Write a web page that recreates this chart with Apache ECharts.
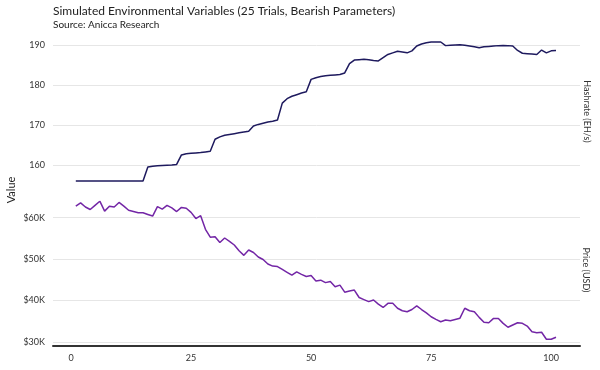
<!DOCTYPE html>
<html><head><meta charset="utf-8">
<script src="https://cdn.jsdelivr.net/npm/echarts@6/dist/echarts.min.js"></script>
<style>html,body{margin:0;padding:0;background:#fff}#c{width:600px;height:370px}</style>
</head><body><div id="c"></div>
<script>
const steps = [1,2,3,4,5,6,7,8,9,10,11,12,13,14,15,16,17,18,19,20,21,22,23,24,25,26,27,28,29,30,31,32,33,34,35,36,37,38,39,40,41,42,43,44,45,46,47,48,49,50,51,52,53,54,55,56,57,58,59,60,61,62,63,64,65,66,67,68,69,70,71,72,73,74,75,76,77,78,79,80,81,82,83,84,85,86,87,88,89,90,91,92,93,94,95,96,97,98,99,100,101];
const hashrate = [156.1,156.1,156.1,156.1,156.1,156.1,156.1,156.1,156.1,156.1,156.1,156.1,156.1,156.1,156.1,
  159.6,159.8,159.9,160.0,160.05,160.1,160.25,
  162.6,162.9,163.0,163.1,163.2,163.35,163.5,
  166.5,167.1,167.5,167.7,167.9,168.1,168.3,168.5,
  169.8,170.2,170.5,170.8,171.0,171.3,
  175.5,176.6,177.2,177.6,178.0,178.3,
  181.4,181.8,182.1,182.3,182.4,182.5,182.6,183.0,
  185.3,186.2,186.3,186.4,186.3,186.1,186.0,
  186.8,187.6,188.0,188.4,188.2,188.0,188.5,189.7,190.2,190.5,190.7,190.7,190.7,
  189.8,189.9,189.95,190.0,189.9,189.7,189.5,189.25,189.5,189.6,189.7,189.8,189.85,189.8,189.7,
  188.6,187.9,187.8,187.7,187.6,188.7,188.0,188.5,188.6];
const price = [62800,63600,62600,62000,63000,64000,61600,62800,62600,63700,62800,61800,61500,61200,61200,60800,60400,62700,62100,63000,
  62400,61500,62500,62300,61300,59800,60500,57200,55300,55400,54000,55100,54300,53400,52000,50900,52200,51600,50500,49900,
  48800,48300,48200,47500,46800,46100,46900,46300,45800,46000,44700,44900,44300,44600,43300,43700,42000,42300,42500,40700,
  40200,39700,40100,39100,38300,39300,39300,38100,37500,37250,37800,38700,37800,37000,36050,35400,34850,35250,35100,35400,
  35700,38100,37500,37250,35900,34700,34600,35650,35650,34450,33500,34050,34600,34450,33800,32400,32200,32300,30600,30600,31100];
const hashTicks = [160,170,180,190];
const priceTicks = [30000,40000,50000,60000];
const xTicks = [0,25,50,75,100];

const FONT = 'Lato, "Noto Sans", sans-serif';
const chart = echarts.init(document.getElementById('c'));
const xMin = -3.75, xMax = 106;
const labelStyle = {fontFamily: FONT, fontSize: 9, color: '#333'};
const gridBase = {left: 53, right: 20, containLabel: false, outerBoundsMode: 'none'};
chart.setOption({
  animation: false,
  grid: [
    Object.assign({top: 40, height: 165.6}, gridBase),
    Object.assign({top: 201.2, height: 181.9}, gridBase),
    Object.assign({top: 201.2, height: 144.8}, gridBase)
  ],
  xAxis: [
    {type: 'value', gridIndex: 0, min: xMin, max: xMax, show: false},
    {type: 'value', gridIndex: 1, min: xMin, max: xMax, show: false},
    {type: 'value', gridIndex: 2, min: xMin, max: xMax,
     axisLine: {show: true, lineStyle: {color: '#333', width: 2}},
     axisTick: {show: false}, splitLine: {show: false},
     axisLabel: Object.assign({customValues: xTicks, margin: 8}, labelStyle)}
  ],
  yAxis: [
    {type: 'value', gridIndex: 0, min: 150, max: 191.2, interval: 10,
     axisLine: {show: false}, axisTick: {show: false},
     splitLine: {show: true, showMinLine: false, showMaxLine: false, lineStyle: {color: '#e6e6e6', width: 1}},
     axisLabel: Object.assign({margin: 8, showMaxLabel: false,
       formatter: v => hashTicks.includes(v) ? String(v) : ''}, labelStyle)},
    {type: 'value', gridIndex: 1, min: 20000, max: 64000, interval: 10000,
     axisLine: {show: false}, axisTick: {show: false},
     splitLine: {show: true, showMinLine: false, showMaxLine: false, lineStyle: {color: '#e6e6e6', width: 1}},
     axisLabel: Object.assign({margin: 8, showMaxLabel: false,
       formatter: v => priceTicks.includes(v) ? '$' + (v / 1000) + 'K' : ''}, labelStyle)},
    {type: 'value', gridIndex: 2, min: 0, max: 1, show: false}
  ],
  series: [
    {type: 'line', xAxisIndex: 0, yAxisIndex: 0, showSymbol: false,
     data: steps.map((s, i) => [s, hashrate[i]]),
     itemStyle: {color: '#1e1a5e'}, lineStyle: {color: '#1e1a5e', width: 1.5}},
    {type: 'line', xAxisIndex: 1, yAxisIndex: 1, showSymbol: false,
     data: steps.map((s, i) => [s, price[i]]),
     itemStyle: {color: '#7326a6'}, lineStyle: {color: '#7326a6', width: 1.5}}
  ],
  graphic: [
    {type: 'text', x: 53, y: 11, style: {text: 'Simulated Environmental Variables (25 Trials, Bearish Parameters)', font: '12px ' + FONT, fill: '#222', verticalAlign: 'middle'}},
    {type: 'text', x: 53, y: 25, style: {text: 'Source: Anicca Research', font: '10px ' + FONT, fill: '#222', verticalAlign: 'middle'}},
    {type: 'text', x: 11.5, y: 190, rotation: Math.PI / 2, style: {text: 'Value', font: '11px ' + FONT, fill: '#222', align: 'center', verticalAlign: 'middle'}},
    {type: 'text', x: 587, y: 111.5, rotation: -Math.PI / 2, style: {text: 'Hashrate (EH/s)', font: '9px ' + FONT, fill: '#333', align: 'center', verticalAlign: 'middle'}},
    {type: 'text', x: 586, y: 270, rotation: -Math.PI / 2, style: {text: 'Price (USD)', font: '9px ' + FONT, fill: '#333', align: 'center', verticalAlign: 'middle'}}
  ]
});
</script></body></html>
